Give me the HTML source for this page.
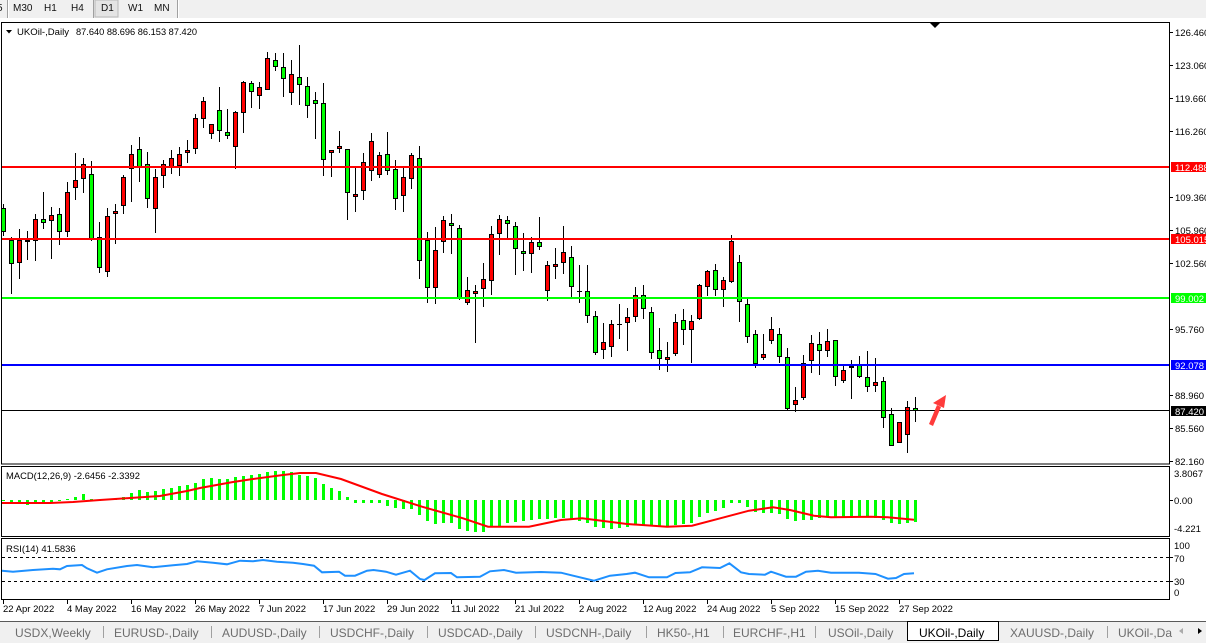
<!DOCTYPE html>
<html><head><meta charset="utf-8"><style>
html,body{margin:0;padding:0;background:#fff;width:1206px;height:643px;overflow:hidden}
svg{display:block}
text{font-family:"Liberation Sans",Arial,sans-serif}
.ax{font-size:9.5px;fill:#000}
.tab{font-size:12px;fill:#6d6d6d}
</style></head><body>
<svg width="1206" height="643" viewBox="0 0 1206 643" xmlns="http://www.w3.org/2000/svg">
<rect x="0" y="0" width="1206" height="643" fill="#fff"/>
<!-- toolbar -->
<rect x="0" y="0" width="1206" height="18" fill="#f0f0f0"/>
<rect x="95" y="0" width="23" height="17" fill="#e4e4e4" stroke="#b9b9b9" stroke-width="1"/>
<g stroke="#a0a0a0" stroke-width="1"><line x1="7.5" y1="0" x2="7.5" y2="18"/><line x1="93.5" y1="0" x2="93.5" y2="18"/><line x1="177.5" y1="0" x2="177.5" y2="18"/></g>
<g stroke="#fff" stroke-width="1"><line x1="8.5" y1="0" x2="8.5" y2="18"/><line x1="178.5" y1="0" x2="178.5" y2="18"/></g>
<g style="font-size:10px;fill:#111">
<text x="-3" y="11">5</text><text x="13" y="11">M30</text><text x="44" y="11">H1</text><text x="71" y="11">H4</text><text x="101" y="11">D1</text><text x="128" y="11">W1</text><text x="154" y="11">MN</text>
</g>

<!-- frames -->
<g fill="none" stroke="#000" stroke-width="1">
<rect x="1.5" y="22.5" width="1168" height="441.5"/>
<rect x="1.5" y="466.5" width="1168" height="70"/>
<rect x="1.5" y="538.5" width="1168" height="61"/>
</g>

<!-- candle wicks -->
<path fill="none" stroke="#000" stroke-width="1" d="M3.5 204V236M11.5 237V294M19.5 229V279M27.5 231V260M35.5 214V261M43.5 192V229M51.5 207V259M59.5 208V245M67.5 182V237M75.5 153V200M83.5 158V193M91.5 161V241M99.5 222V273M107.5 208V277M115.5 204V244M123.5 175V214M131.5 145V202M139.5 137V182M147.5 152V208M155.5 169V233M163.5 160V188M171.5 150V174M179.5 147V176M187.5 140V163M195.5 114V154M203.5 97V128M211.5 124V139M219.5 87V142M227.5 109V139M235.5 111V169M243.5 81V133M251.5 81V108M259.5 82V109M267.5 52V90M275.5 53V71M283.5 53V97M291.5 60V105M299.5 45V105M307.5 77V118M315.5 92V139M323.5 83V176M331.5 150V177M339.5 131V153M347.5 149V220M355.5 167V212M363.5 153V200M371.5 133V181M379.5 152V178M387.5 132V175M395.5 160V210M403.5 168V212M411.5 153V189M419.5 146V279M427.5 232V303M435.5 227V304M443.5 216V253M451.5 214V254M459.5 225V300M467.5 277V305M475.5 285V343M483.5 263V307M491.5 226V295M499.5 215V255M507.5 216V238M515.5 222V275M523.5 233V271M531.5 237V273M539.5 217V250M547.5 261V301M555.5 248V279M563.5 226V274M571.5 246V297M579.5 265V303M587.5 265V323M595.5 311V355M603.5 323V359M611.5 320V357M619.5 304V339M627.5 308V351M635.5 287V322M643.5 285V319M651.5 307V359M659.5 328V370M667.5 342V372M675.5 314V356M683.5 309V345M691.5 315V363M699.5 284V320M707.5 270V296M715.5 264V296M723.5 277V307M731.5 235V283M739.5 255V322M747.5 299V343M755.5 330V368M763.5 334V360M771.5 317V344M779.5 328V363M787.5 348V410M795.5 387V412M803.5 355V400M811.5 335V373M819.5 332V375M827.5 329V357M835.5 340V386M843.5 366V383M851.5 360V399M859.5 356V378M867.5 351V392M875.5 358V392M883.5 377V428M891.5 408V446M899.5 422V443M907.5 401V453M915.5 397V422"/>
<!-- red bodies -->
<path fill="#ff0000" stroke="#000" stroke-width="1" d="M17.5 240.5h4v22h-4zM33.5 219.5h4v21h-4zM49.5 215.5h4v5h-4zM65.5 192.5h4v39h-4zM73.5 180.5h4v7h-4zM81.5 164.5h4v14h-4zM105.5 216.5h4v55h-4zM113.5 211.5h4v2h-4zM121.5 177.5h4v28h-4zM129.5 154.5h4v14h-4zM153.5 177.5h4v31h-4zM161.5 164.5h4v11h-4zM169.5 158.5h4v8h-4zM177.5 154.5h4v11h-4zM185.5 150.5h4v2h-4zM193.5 118.5h4v30h-4zM201.5 101.5h4v17h-4zM209.5 124.5h4v9h-4zM233.5 112.5h4v34h-4zM241.5 82.5h4v30h-4zM257.5 87.5h4v8h-4zM265.5 58.5h4v31h-4zM289.5 74.5h4v18h-4zM329.5 150.5h4v2h-4zM337.5 146.5h4v2h-4zM353.5 194.5h4v2h-4zM361.5 162.5h4v28h-4zM369.5 141.5h4v29h-4zM377.5 155.5h4v19h-4zM401.5 177.5h4v18h-4zM409.5 155.5h4v23h-4zM433.5 250.5h4v37h-4zM441.5 220.5h4v21h-4zM465.5 290.5h4v12h-4zM473.5 291.5h4v2h-4zM481.5 279.5h4v9h-4zM489.5 234.5h4v46h-4zM497.5 219.5h4v14h-4zM529.5 242.5h4v11h-4zM545.5 265.5h4v25h-4zM553.5 264.5h4v2h-4zM561.5 252.5h4v10h-4zM601.5 342.5h4v7h-4zM609.5 324.5h4v22h-4zM625.5 317.5h4v5h-4zM633.5 295.5h4v21h-4zM665.5 357.5h4v2h-4zM673.5 322.5h4v31h-4zM689.5 321.5h4v8h-4zM697.5 285.5h4v33h-4zM705.5 271.5h4v15h-4zM721.5 280.5h4v9h-4zM729.5 241.5h4v40h-4zM761.5 354.5h4v3h-4zM769.5 329.5h4v11h-4zM793.5 400.5h4v4h-4zM801.5 363.5h4v34h-4zM809.5 343.5h4v17h-4zM825.5 341.5h4v9h-4zM841.5 370.5h4v10h-4zM873.5 382.5h4v3h-4zM897.5 422.5h4v20h-4zM905.5 407.5h4v27h-4z"/>
<!-- green bodies -->
<path fill="#00ff00" stroke="#000" stroke-width="1" d="M1.5 208.5h4v23h-4zM9.5 240.5h4v23h-4zM25.5 240.5h4v1h-4zM41.5 219.5h4v3h-4zM57.5 214.5h4v17h-4zM89.5 174.5h4v64h-4zM97.5 237.5h4v30h-4zM137.5 149.5h4v17h-4zM145.5 164.5h4v34h-4zM217.5 110.5h4v20h-4zM225.5 132.5h4v3h-4zM249.5 83.5h4v8h-4zM273.5 60.5h4v6h-4zM281.5 67.5h4v11h-4zM297.5 77.5h4v7h-4zM305.5 86.5h4v19h-4zM313.5 100.5h4v3h-4zM321.5 103.5h4v56h-4zM345.5 149.5h4v43h-4zM385.5 154.5h4v16h-4zM393.5 169.5h4v29h-4zM417.5 158.5h4v102h-4zM425.5 240.5h4v47h-4zM449.5 223.5h4v2h-4zM457.5 228.5h4v69h-4zM505.5 220.5h4v3h-4zM513.5 226.5h4v22h-4zM521.5 251.5h4v2h-4zM537.5 242.5h4v4h-4zM569.5 257.5h4v29h-4zM585.5 291.5h4v24h-4zM593.5 316.5h4v36h-4zM641.5 295.5h4v13h-4zM649.5 312.5h4v40h-4zM657.5 350.5h4v8h-4zM681.5 320.5h4v9h-4zM713.5 270.5h4v19h-4zM737.5 262.5h4v39h-4zM745.5 304.5h4v32h-4zM753.5 334.5h4v29h-4zM777.5 334.5h4v22h-4zM785.5 357.5h4v51h-4zM817.5 344.5h4v6h-4zM833.5 340.5h4v36h-4zM849.5 366.5h4v1h-4zM857.5 365.5h4v11h-4zM865.5 377.5h4v9h-4zM881.5 381.5h4v36h-4zM889.5 414.5h4v31h-4zM913.5 408.5h4v2h-4z"/>
<path fill="none" stroke="#000" stroke-width="1" d="M577 291.5h5M617 324.5h5"/>

<!-- horizontal level lines -->
<line x1="2" y1="410.5" x2="1169" y2="410.5" stroke="#000" stroke-width="1"/>
<line x1="2" y1="167" x2="1169" y2="167" stroke="#ff0000" stroke-width="2"/>
<line x1="2" y1="239" x2="1169" y2="239" stroke="#ff0000" stroke-width="2"/>
<line x1="2" y1="298" x2="1169" y2="298" stroke="#00ff00" stroke-width="2"/>
<line x1="2" y1="365" x2="1169" y2="365" stroke="#0000ff" stroke-width="2"/>

<!-- title -->
<polygon points="6,30 12,30 9,33.5" fill="#000"/>
<text x="17" y="35" style="font-size:9.5px" textLength="52" lengthAdjust="spacingAndGlyphs">UKOil-,Daily</text>
<text x="76" y="35" style="font-size:9.5px" textLength="121" lengthAdjust="spacingAndGlyphs">87.640 88.696 86.153 87.420</text>
<polygon points="929,22 941,22 935,28" fill="#000"/>

<!-- red arrow -->
<g fill="#ff3b3b">
<polygon points="929,424 933,426 941,407 937,405"/>
<polygon points="946,395 933,403 944,408"/>
</g>

<!-- price axis -->
<g stroke="#000" stroke-width="1">
<path d="M1170 32.5h3M1170 65.5h3M1170 98.5h3M1170 131.5h3M1170 197.5h3M1170 230.5h3M1170 263.5h3M1170 329.5h3M1170 395.5h3M1170 428.5h3M1170 461.5h3M1170 500.5h3M1170 557.5h3M1170 581.5h3"/>
</g>
<g class="ax">
<text x="1175" y="36">126.460</text>
<text x="1175" y="69">123.060</text>
<text x="1175" y="102">119.660</text>
<text x="1175" y="135">116.260</text>
<text x="1175" y="201">109.360</text>
<text x="1175" y="234">105.960</text>
<text x="1175" y="267">102.560</text>
<text x="1175" y="333">95.760</text>
<text x="1175" y="399">88.960</text>
<text x="1175" y="432">85.560</text>
<text x="1175" y="465">82.160</text>
</g>
<rect x="1171" y="162" width="35" height="10" fill="#ff0000"/>
<rect x="1171" y="234" width="35" height="10" fill="#ff0000"/>
<rect x="1171" y="293" width="35" height="10" fill="#00ff00"/>
<rect x="1171" y="360" width="35" height="10" fill="#0000ff"/>
<rect x="1171" y="406" width="35" height="10" fill="#000"/>
<g class="ax" style="fill:#fff">
<text x="1175" y="171">112.488</text>
<text x="1175" y="243">105.015</text>
<text x="1175" y="302">99.002</text>
<text x="1175" y="369">92.078</text>
<text x="1175" y="415">87.420</text>
</g>

<!-- MACD -->
<path fill="none" stroke="#00ff00" stroke-width="3" d="M3.5 500V501M11.5 500V504M19.5 500V504M27.5 500V505M35.5 500V504M43.5 500V503M51.5 500V502M59.5 500V501M67.5 500V499M75.5 500V497M83.5 500V494M91.5 500V499M99.5 500V501M107.5 500V499M115.5 500V499M123.5 500V497M131.5 500V493M139.5 500V490M147.5 500V492M155.5 500V491M163.5 500V489M171.5 500V488M179.5 500V486M187.5 500V485M195.5 500V483M203.5 500V479M211.5 500V478M219.5 500V479M227.5 500V479M235.5 500V477M243.5 500V476M251.5 500V475M259.5 500V474M267.5 500V472M275.5 500V471M283.5 500V471M291.5 500V472M299.5 500V475M307.5 500V476M315.5 500V478M323.5 500V484M331.5 500V488M339.5 500V491M347.5 500V497M355.5 500V503M363.5 500V503M371.5 500V503M379.5 500V503M387.5 500V506M395.5 500V508M403.5 500V509M411.5 500V509M419.5 500V515M427.5 500V521M435.5 500V524M443.5 500V523M451.5 500V523M459.5 500V529M467.5 500V531M475.5 500V532M483.5 500V532M491.5 500V527M499.5 500V526M507.5 500V523M515.5 500V522M523.5 500V521M531.5 500V520M539.5 500V519M547.5 500V519M555.5 500V518M563.5 500V518M571.5 500V519M579.5 500V521M587.5 500V523M595.5 500V527M603.5 500V528M611.5 500V529M619.5 500V528M627.5 500V527M635.5 500V525M643.5 500V526M651.5 500V526M659.5 500V527M667.5 500V526M675.5 500V525M683.5 500V524M691.5 500V523M699.5 500V517M707.5 500V513M715.5 500V511M723.5 500V508M731.5 500V503M739.5 500V503M747.5 500V507M755.5 500V512M763.5 500V513M771.5 500V513M779.5 500V514M787.5 500V519M795.5 500V521M803.5 500V520M811.5 500V520M819.5 500V518M827.5 500V517M835.5 500V517M843.5 500V517M851.5 500V517M859.5 500V517M867.5 500V517M875.5 500V518M883.5 500V520M891.5 500V523M899.5 500V524M907.5 500V523M915.5 500V522"/>
<polyline fill="none" stroke="#ff0000" stroke-width="2" points="2,503 50,503 73,502 100,500 130,498 160,496 187,491 200,488 233,482 253,479 283,475 300,473 316,473 341,479 382,494 422,506.7 463,518.3 488,526.7 529,526.7 561,520 582,518.3 627,524 667,526.7 692,525.7 724,517.3 749,510.7 773,507.3 790,510 814,515.7 831,517.3 871,516.7 888,517.3 914,519.7"/>
<text x="6" y="479" class="ax" textLength="134" lengthAdjust="spacingAndGlyphs">MACD(12,26,9) -2.6456 -2.3392</text>
<g class="ax">
<text x="1174" y="477">3.8067</text>
<text x="1174" y="504">0.00</text>
<text x="1174" y="532">-4.221</text>
</g>

<!-- RSI -->
<g stroke="#000" stroke-width="1" stroke-dasharray="3,3">
<line x1="2" y1="557.5" x2="1169" y2="557.5"/>
<line x1="2" y1="581.5" x2="1169" y2="581.5"/>
</g>
<polyline fill="none" stroke="#1e90ff" stroke-width="2" points="2,570.7 13,571.7 33,570 53,568.7 60,569.3 67,566 82,565 87,568.3 97,572.7 107,569.3 127,566 137,565 153,567.3 173,565.3 187,564 197,561.3 213,562.7 227,564.3 240,560.7 253,561.3 263,560 277,561.7 293,562.7 303,564 314,565.7 322,572.3 339,571.7 345,575.7 355,575.7 367,570.7 373.5,570 386,571.7 396,574.7 410,570.7 420,579 424.5,580 435,573.3 451,573 457,577.3 480,576.7 490,571.3 504,570 516,572.7 541,572 561,572.7 569,574.7 594,580.7 610,575.7 626.5,574 635,572.7 649,577.3 667,577.3 675.5,573 690,572.3 702,567.3 720,568 729.4,563.3 741,572.3 749,574 765,574.7 771,571.7 786,576.7 796,576.7 806,571.7 818,570.7 831,572.7 859,572.7 875.5,574 888,578.7 896,578 904,574 914,573.3"/>
<text x="6" y="552" class="ax">RSI(14) 41.5836</text>
<g class="ax">
<text x="1174" y="549">100</text>
<text x="1174" y="562">70</text>
<text x="1174" y="585">30</text>
<text x="1174" y="596">0</text>
</g>

<!-- date axis -->
<path stroke="#000" stroke-width="1" d="M3.5 600v4M67.5 600v4M131.5 600v4M195.5 600v4M259.5 600v4M323.5 600v4M387.5 600v4M451.5 600v4M515.5 600v4M579.5 600v4M643.5 600v4M707.5 600v4M771.5 600v4M835.5 600v4M899.5 600v4"/>
<g class="ax">
<text x="3" y="612">22 Apr 2022</text>
<text x="67" y="612">4 May 2022</text>
<text x="131" y="612">16 May 2022</text>
<text x="195" y="612">26 May 2022</text>
<text x="259" y="612">7 Jun 2022</text>
<text x="323" y="612">17 Jun 2022</text>
<text x="387" y="612">29 Jun 2022</text>
<text x="451" y="612">11 Jul 2022</text>
<text x="515" y="612">21 Jul 2022</text>
<text x="579" y="612">2 Aug 2022</text>
<text x="643" y="612">12 Aug 2022</text>
<text x="707" y="612">24 Aug 2022</text>
<text x="771" y="612">5 Sep 2022</text>
<text x="835" y="612">15 Sep 2022</text>
<text x="899" y="612">27 Sep 2022</text>
</g>

<!-- tab bar -->
<rect x="0" y="621" width="1206" height="22" fill="#f0f0f0"/>
<line x1="0" y1="621.5" x2="1206" y2="621.5" stroke="#5a5a5a" stroke-width="1"/>
<rect x="907.5" y="621.5" width="91" height="19" fill="#fff" stroke="#000" stroke-width="1"/>
<g stroke="#a0a0a0" stroke-width="1">
<path d="M103.5 626v12M211.5 626v12M319.5 626v12M427.5 626v12M535.5 626v12M646.5 626v12M723.5 626v12M815.5 626v12M1107.5 626v12"/>
</g>
<g class="tab">
<text x="15" y="637">USDX,Weekly</text>
<text x="114" y="637">EURUSD-,Daily</text>
<text x="222" y="637">AUDUSD-,Daily</text>
<text x="330" y="637">USDCHF-,Daily</text>
<text x="438" y="637">USDCAD-,Daily</text>
<text x="546" y="637">USDCNH-,Daily</text>
<text x="657" y="637">HK50-,H1</text>
<text x="733" y="637">EURCHF-,H1</text>
<text x="828" y="637">USOil-,Daily</text>
<text x="919" y="637" style="fill:#000">UKOil-,Daily</text>
<text x="1010" y="637">XAUUSD-,Daily</text>
<text x="1118" y="637">UKOil-,Da</text>
</g>
<polygon points="1183,628 1183,634 1179,631" fill="#aaa"/>
<polygon points="1198,628 1198,634 1202,631" fill="#000"/>
</svg>
</body></html>
